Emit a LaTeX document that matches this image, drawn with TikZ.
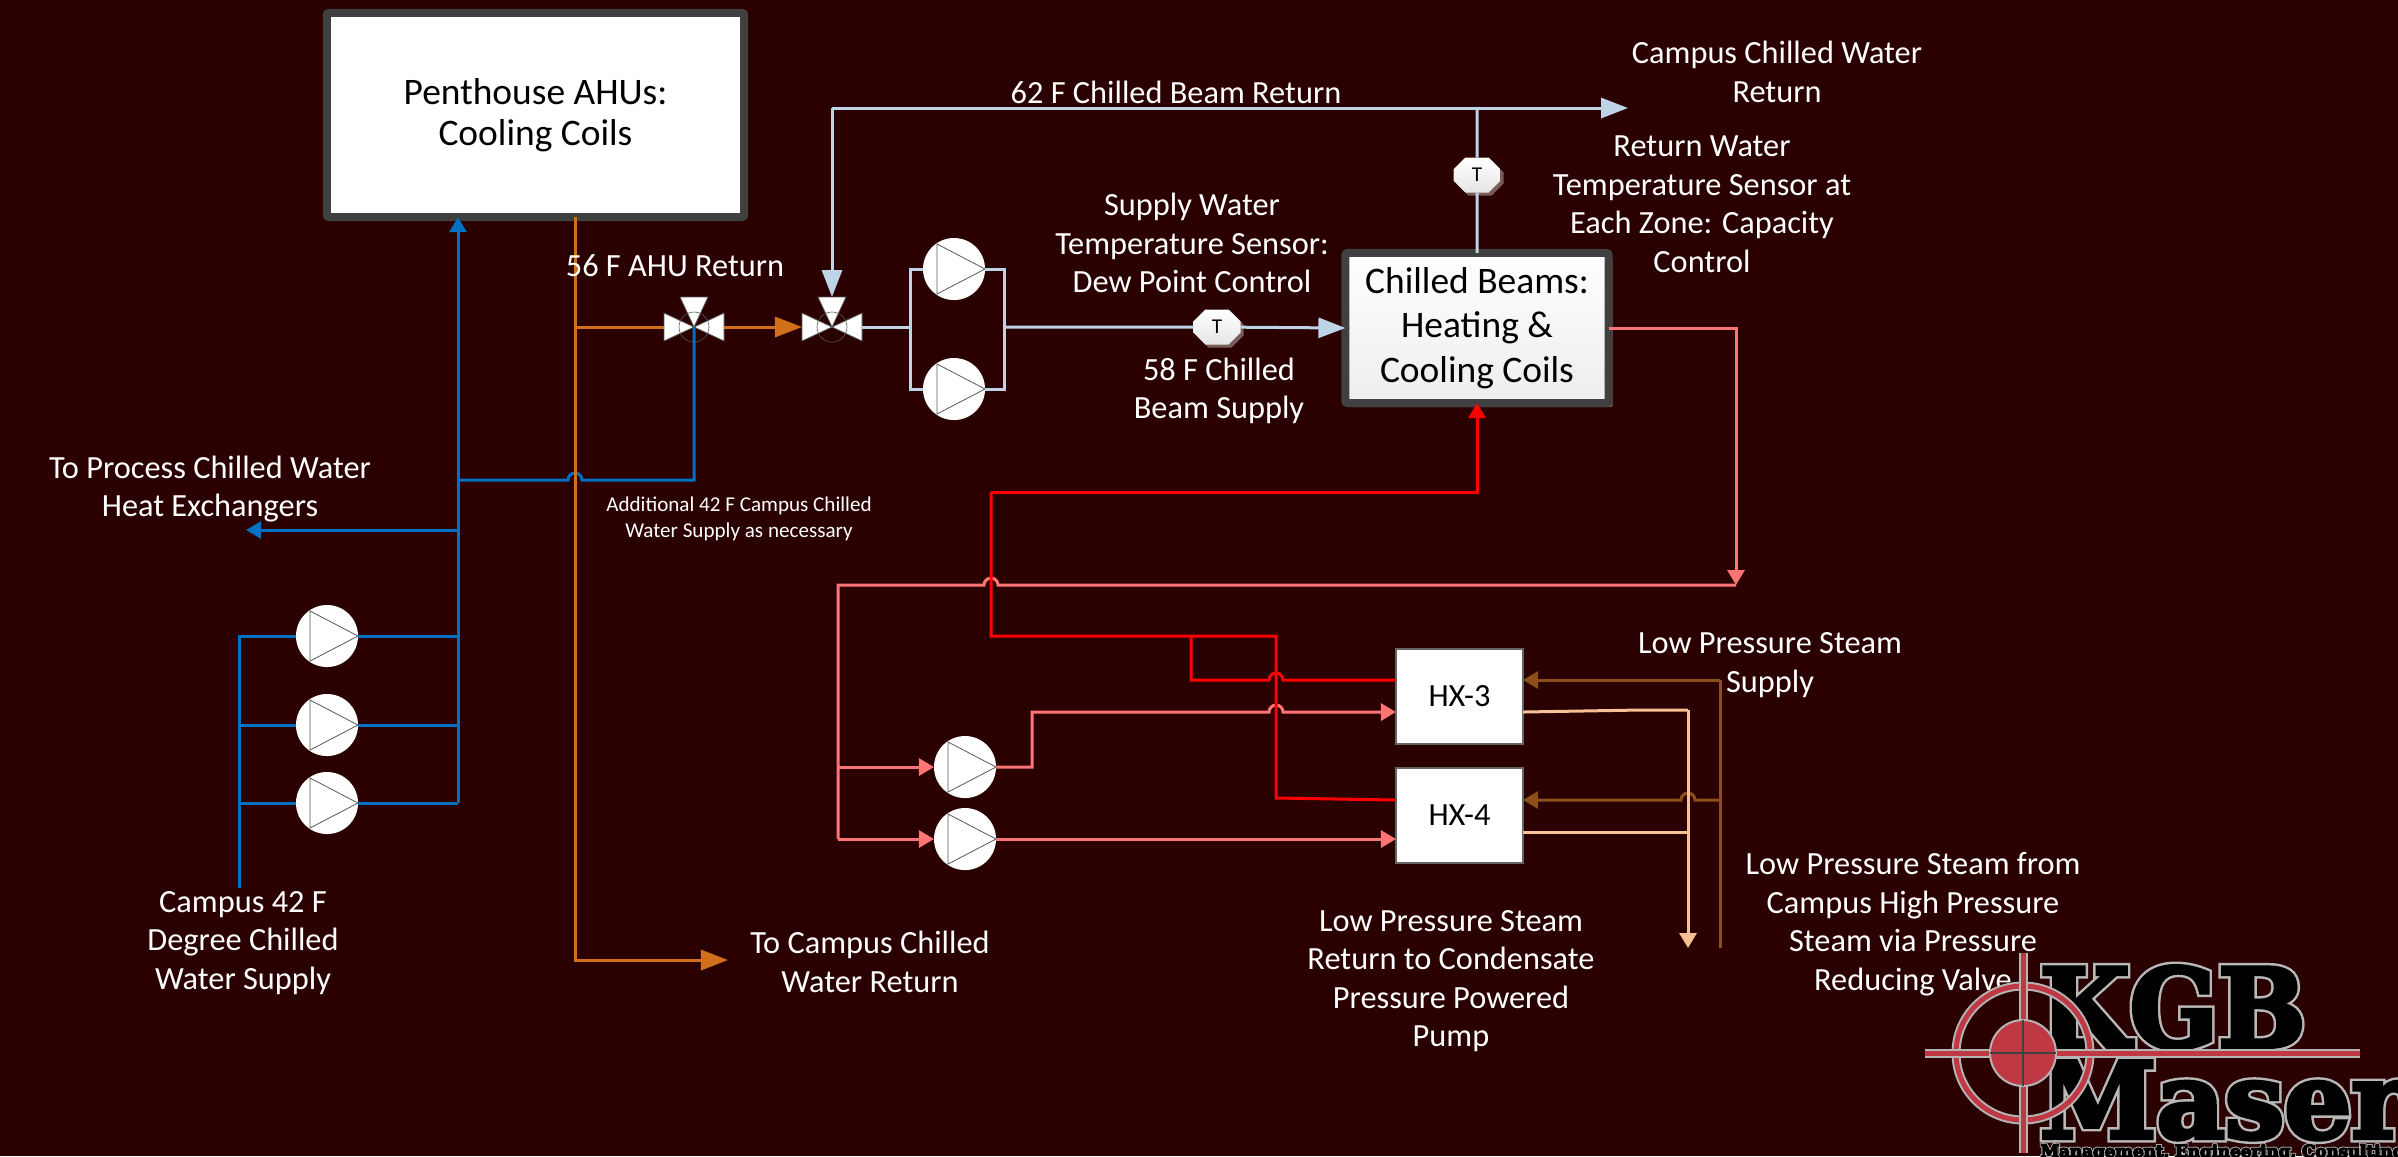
\documentclass[tikz,border=0pt]{standalone}
\usepackage{fontspec}
\setmainfont{Carlito}
\newfontfamily\logofont{DejaVu Serif}
\usepackage{xcolor}
\usetikzlibrary{arrows.meta,positioning,calc,shapes.misc,shadows}
\definecolor{bgc}{HTML}{2A0000}
\definecolor{orangec}{HTML}{D0701A}
\definecolor{bluec}{HTML}{0070C0}
\definecolor{icec}{HTML}{BFD3E6}
\definecolor{pinkc}{HTML}{FF7575}
\definecolor{brownc}{HTML}{8B4F1C}
\definecolor{tanc}{HTML}{F7C195}
\definecolor{shadowc}{HTML}{7A5C5C}
\definecolor{logored}{HTML}{C03844}
\definecolor{logogrey}{HTML}{B4B4B4}
\newcommand{\outl}[3]{\rlap{\special{pdf:code q 2 Tr #1 w 0.72 G 0.72 g}#3\special{pdf:code Q}}\special{pdf:code q 2 Tr #2 w 0 G 0 g}#3\special{pdf:code Q}}
\tikzset{
  lbl/.style    ={text=white,align=center,inner sep=0pt,font=\fontsize{9.2}{10.95}\selectfont},
  lblsm/.style  ={lbl,font=\fontsize{6}{7.4}\selectfont},
  coil/.style   ={rectangle,draw=black!75,line width=.08cm,rounded corners=.02cm,outer sep=0pt,fill=white,
                  align=center,inner sep=0pt,text=black,font=\fontsize{10.65}{12.7}\selectfont},
  hx/.style     ={rectangle,fill=white,draw=black!60,minimum width=1.27cm,minimum height=.95cm,outer sep=0pt,font=\fontsize{9.2}{10}\selectfont},
  pump/.style   ={circle,fill=white,minimum size=.62cm,inner sep=0pt,outer sep=0pt,
                  path picture={\draw[black!65,line width=.008cm] ([shift={(-17,-25)}]path picture bounding box.center)
                    -- ([shift={(31,0)}]path picture bounding box.center) -- ([shift={(-17,25)}]path picture bounding box.center) -- cycle;}},
  sensor/.style ={chamfered rectangle,chamfered rectangle xsep=.1cm,chamfered rectangle ysep=.175cm,minimum width=.47cm,minimum height=.35cm,
                  inner sep=0pt,outer sep=0pt,top color=white,bottom color=black!10,font=\fontsize{6}{6}\selectfont,
                  drop shadow={shadow xshift=.03cm,shadow yshift=-.03cm,fill=shadowc,opacity=1}},
  pipe/.style   ={line width=.03cm},
  orangepipe/.style={pipe,orangec},
  bluepipe/.style  ={pipe,bluec},
  icepipe/.style   ={pipe,icec},
  pinkpipe/.style  ={pipe,pinkc},
  redpipe/.style   ={pipe,red},
  brownpipe/.style ={pipe,brownc},
  tanpipe/.style   ={pipe,tanc},
  bigtip/.style ={-{Triangle[length=.27cm,width=.2cm]}},
  tip/.style    ={-{Triangle[length=.15cm,width=.17cm]}},
  logoline/.style={draw=logogrey,line width=.02cm,double=logored,double distance=.05cm},
  valve/.pic={
    \foreach \a in {0,90,180}{
      \path[rotate=\a,fill=white,draw=black!65,line width=.008cm] (0,0) -- (30,-14) -- (30,14) -- cycle;}
    \draw[black!65,line width=.006cm] (0,0) circle[radius=15];
    \coordinate (-c) at (0,0); \coordinate (-l) at (-30,0); \coordinate (-r) at (30,0); \coordinate (-t) at (0,-30);
  },
}
\begin{document}
\begin{tikzpicture}[x=.01cm,y=-.01cm]
  \path[use as bounding box,fill=bgc] (0,0) rectangle (2398,1156);
  \clip (0,0) rectangle (2398,1156);

  % equipment
  \node[coil,minimum width=4.17cm,minimum height=2.04cm](ahu) at (535.5,115){\raisebox{-1pt}{Penthouse AHUs:}\\Cooling Coils};
  \node[coil,top color=white,bottom color=black!7,minimum width=2.63cm,minimum height=1.5cm,
        drop shadow={shadow xshift=.04cm,shadow yshift=-.04cm,fill=shadowc,opacity=1}](beam) at (1477,328){Chilled Beams:\\Heating \&\\Cooling Coils};
  \node[hx](hx3) at (1459.5,696.5){HX-3};
  \node[hx](hx4) at (1459.5,815.5){HX-4};
  \node[pump](pa) at (327,636){};  \node[pump](pb) at (327,725){};  \node[pump](pc) at (327,803){};
  \node[pump](pd) at (954,269){};  \node[pump](pe) at (954,389){};
  \node[pump](pf) at (965,767){};  \node[pump](pg) at (965,839){};
  \pic (va) at (694,327) {valve};
  \pic (vb) at (832,327) {valve};
  \node[sensor](ts) at (1217,327){T};
  \node[sensor](tr) at (1477,175){T};

  % campus supply
  \coordinate (bl) at (239,888); \coordinate (br) at (458,803);
  \coordinate (bj) at (458,480); \coordinate (px) at (246,530); \coordinate (pj) at (458,530);
  \draw[bluepipe] (bl) -- (bl |- pa) -- (pa);
  \foreach \n in {pb,pc}{\draw[bluepipe] (bl |- \n) -- (\n);}
  \foreach \n in {pa,pb,pc}{\draw[bluepipe] (\n.east) -- (br |- \n);}
  \draw[bluepipe,tip] (br) -- (ahu.south -| br);
  \draw[bluepipe,tip] (pj) -- (px);
  \draw[bluepipe] (bj) -- (568,480) arc[start angle=180,end angle=360,radius=7] -- (va-c |- bj) -- (va-c);

  % AHU return
  \coordinate (oa) at (575,960); \coordinate (ob) at (728,960);
  \draw[orangepipe,bigtip] (ahu.south -| oa) -- (oa) -- (ob);
  \draw[orangepipe] (oa |- va-l) -- (va-l);
  \draw[orangepipe,bigtip] (va-r) -- (vb-l);

  % chilled beam loop
  \coordinate (ra) at (832,108); \coordinate (rb) at (1628,108); \coordinate (il) at (910,327); \coordinate (ir) at (1004,327);
  \draw[icepipe,bigtip] (ra) -- (vb-t);
  \draw[icepipe,bigtip] (ra) -- (rb);
  \draw[icepipe] (tr) -- (tr |- ra);
  \draw[icepipe] (beam.north) -- (tr);
  \draw[icepipe] (vb-r) -- (il);
  \draw[icepipe] (pd) -| (il) |- (pe);
  \draw[icepipe] (pd.east) -| (ir) |- (pe.east);
  \draw[icepipe] (ir) -- (ts);
  \draw[icepipe,bigtip] (ts) -- (beam.west);

  % heating water
  \coordinate (ka) at (1736,585); \coordinate (kb) at (838,585); \coordinate (kc) at (838,839);
  \draw[pinkpipe,tip] (beam.east) -| (ka);
  \draw[pinkpipe] (ka) -- (998,585) arc[start angle=360,end angle=180,radius=7] -- (kb) -- (kc);
  \draw[pinkpipe,tip] (kb |- pf) -- (pf);
  \draw[pinkpipe,tip] (kc) -- (pg);
  \draw[pinkpipe,tip] (pf.east) -- (1032,767) -- (1032,712) -- (1269,712) arc[start angle=180,end angle=360,radius=7] -- (hx3.west |- 0,712);
  \draw[pinkpipe,tip] (pg.east) -- (hx4.west |- pg);
  \coordinate (ea) at (991,492); \coordinate (eb) at (991,636); \coordinate (ec) at (1276,636);
  \draw[redpipe,tip] (ea) -| (beam.south);
  \draw[redpipe] (ea) -- (eb) -- (ec) -- (1276,798) -- (hx4.west |- 0,800);
  \draw[redpipe] (1191,636) -- (1191,680) -- (1269,680) arc[start angle=180,end angle=360,radius=7] -- (hx3.west |- 0,680);

  % steam
  \coordinate (sa) at (1720,680); \coordinate (sb) at (1720,948); \coordinate (ca) at (1688,710); \coordinate (cb) at (1688,948);
  \draw[brownpipe,tip] (sa) -- (hx3.east |- sa);
  \draw[brownpipe] (sa) -- (sb);
  \draw[brownpipe,tip] (1720,800) -- (1695,800) arc[start angle=360,end angle=180,radius=7] -- (hx4.east |- 0,800);
  \draw[tanpipe] (hx3.east |- 0,712) -- (1640,710) -- (ca);
  \draw[tanpipe,tip] (ca) -- (cb);
  \draw[tanpipe] (hx4.east |- 0,832) -- (1688,832);

  % labels
  \node[lbl](l1) at (1176,92){62 F Chilled Beam Return};
  \node[lbl](l2) at (1777,72){Campus Chilled Water\\Return};
  \node[lbl](l3) at (1702,204){Return Water\\Temperature Sensor at\\Each Zone: Capacity\\Control};
  \node[lbl](l4) at (1192,243){Supply Water\\Temperature Sensor:\\Dew Point Control};
  \node[lbl](l5) at (675,266){56 F AHU Return};
  \node[lbl](l6) at (1219,391){58 F Chilled\\Beam Supply};
  \node[lbl](l7) at (210,489){To Process Chilled Water\\Heat Exchangers};
  \node[lblsm](l8) at (739,519){Additional 42 F Campus Chilled\\Water Supply as necessary};
  \node[lbl](l9) at (243,943){Campus 42 F\\Degree Chilled\\Water Supply};
  \node[lbl](l10) at (870,962){To Campus Chilled\\Water Return};
  \node[lbl](l11) at (1770,665){Low Pressure Steam\\Supply};
  \node[lbl](l12) at (1913,924){Low Pressure Steam from\\Campus High Pressure\\Steam via Pressure\\Reducing Valve};
  \node[lbl](l13) at (1451,981){Low Pressure Steam\\Return to Condensate\\Pressure Powered\\Pump};

  % logo
  \node[anchor=base west,inner sep=0pt,font=\logofont\bfseries\fontsize{31}{31}\selectfont\addfontfeature{FakeStretch=.95}](kgb) at (2039,1047){\outl{2.6}{1.2}{KGB}};
  \node[anchor=base west,inner sep=0pt,font=\logofont\bfseries\fontsize{30}{30}\selectfont](maser) at (2039,1138){\outl{2.6}{1.2}{Maser}};
  \node[anchor=base west,inner sep=0pt,font=\logofont\bfseries\fontsize{4.75}{6}\selectfont](tag) at (2040,1157){\outl{.9}{.4}{Management, Engineering, Consulting}};
  \coordinate (cross) at (2023,1053);
  \draw[logoline] (cross) circle[radius=67];
  \draw[logoline] (1925,1053) -- (2360,1053);
  \draw[logoline] (2023,953) -- (2023,1153);
  \draw[draw=logogrey,fill=logored,line width=.02cm] (cross) circle[radius=33];
  \draw[black!75,line width=.02cm] (1990,1053) -- (2056,1053) (2023,1020) -- (2023,1086);
\end{tikzpicture}
\end{document}
